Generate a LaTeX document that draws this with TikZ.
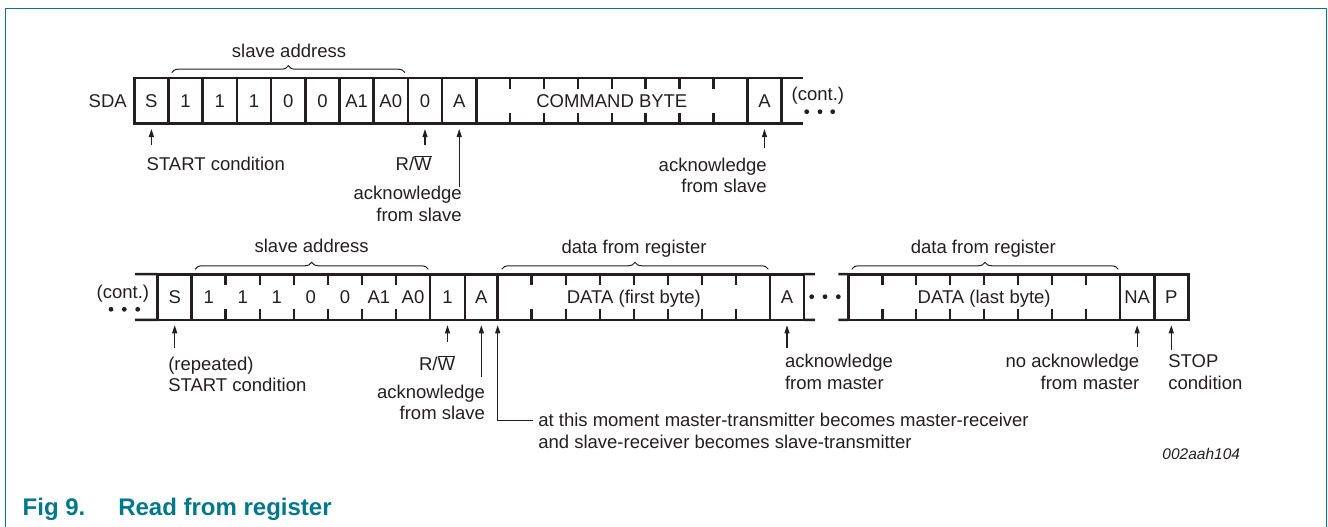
\documentclass[tikz,border=0pt]{standalone}
\usepackage{fontspec}
\setmainfont{Liberation Sans}
\usetikzlibrary{arrows.meta,decorations.pathreplacing,calc}
\definecolor{ink}{HTML}{231F20}
\definecolor{figteal}{RGB}{0,119,139}
\newcommand\mycell[5]{\node[cell,minimum width={(#3)-(#2)}] (#1) at ({((#2)+(#3))/2},#4) {#5};}
\newcommand\myticks[3]{\foreach \k in {1,...,#3} {%
  \draw[tick] ($(#1.north west)!\k/#2!(#1.north east)$) -- ++(0,10.5);
  \draw[tick] ($(#1.south west)!\k/#2!(#1.south east)$) -- ++(0,-10.5);}}
\begin{document}
\begin{tikzpicture}[x=1pt,y=-1pt,
  font=\fontsize{18.5}{21.5}\selectfont,
  every node/.style={text=ink, inner sep=0pt, outer sep=0pt},
  cell/.style={draw=ink, line width=2.5pt, minimum height=45.5pt, text height=13.3pt, text depth=0pt},
  bit/.style={text height=13.3pt, text depth=0pt},
  bus/.style={draw=ink, line width=2.5pt},
  tick/.style={draw=ink, line width=2.5pt},
  arr/.style={draw=ink, line width=1.1pt, -{Triangle[length=8pt,width=5pt]}},
  brc/.style={draw=ink, line width=1pt, decorate, decoration={brace, amplitude=7pt}},
  lw/.style={anchor=base west},
  le/.style={anchor=base east},
  lc/.style={anchor=base}]
\useasboundingbox (0,0) rectangle (1328,527);
% frame
\draw[figteal, line width=1.5pt] (5.3,530) -- (5.3,8.3) -- (1326.3,8.3) -- (1326.3,530);

% ---------- top row ----------
\node[le] (sda) at (126.7,107.3) {SDA};
\mycell{tS}{134.3}{168.5}{100.75}{S}
\mycell{tb1}{168.5}{202.7}{100.75}{1}
\mycell{tb2}{202.7}{236.9}{100.75}{1}
\mycell{tb3}{236.9}{271.1}{100.75}{1}
\mycell{tb4}{271.1}{305.3}{100.75}{0}
\mycell{tb5}{305.3}{339.5}{100.75}{0}
\mycell{tA1}{339.5}{373.7}{100.75}{A1}
\mycell{tA0}{373.7}{407.9}{100.75}{A0}
\mycell{tRW}{407.9}{442.1}{100.75}{0}
\mycell{tAck}{442.1}{476.3}{100.75}{A}
\mycell{tCmd}{476.3}{747.3}{100.75}{COMMAND BYTE}
\mycell{tAck2}{747.3}{781.7}{100.75}{A}
\myticks{tCmd}{8}{7}
\coordinate (tEndTop) at (803,78);
\coordinate (tEndBot) at (803,123.5);
\draw[bus] (tAck2.north east) -- (tEndTop);
\draw[bus] (tAck2.south east) -- (tEndBot);
\node[lw] (tcont) at (791.7,100) {(cont.)};
\foreach \x in {806.7,820,832.7} \fill[ink] (\x,111.7) circle (2.4pt);

\draw[brc] (171.7,72.7) -- (405,72.7);
\node[lc] (tsa) at (289,57.3) {slave address};

\node[lw] (tStart) at (146.7,170.7) {START condition};
\draw[arr] ([yshift=-21.5pt]tS.south) -- ([yshift=-5.5pt]tS.south);
\node[le] (tRWl) at (431.7,170.7) {R/$\overline{\mbox{W}}$};
\draw[arr] ([yshift=-21.5pt]tRW.south) -- ([yshift=-5.5pt]tRW.south);
\node[le] (tAckl1) at (461.7,199.5) {acknowledge};
\node[le] (tAckl2) at (461.7,221) {from slave};
\draw[arr] ([yshift=-63pt]tAck.south) -- ([yshift=-5.5pt]tAck.south);
\node[le] (tAck2l1) at (766.7,171) {acknowledge};
\node[le] (tAck2l2) at (766.7,192.7) {from slave};
\draw[arr] ([yshift=-24.5pt]tAck2.south) -- ([yshift=-5.5pt]tAck2.south);

% ---------- bottom row ----------
\node[lw] (bcont) at (96.7,298.3) {(cont.)};
\foreach \x in {111,124.3,137.7} \fill[ink] (\x,309.3) circle (2.4pt);
\mycell{bS}{157.7}{191.7}{297}{S}
\mycell{bAddr}{191.7}{430}{297}{}
\mycell{bRW}{430}{465}{297}{1}
\mycell{bAck}{465}{497.7}{297}{A}
\mycell{bData1}{497.7}{770}{297}{DATA (first byte)}
\mycell{bAckM}{770}{804}{297}{A}
\mycell{bData2}{848.3}{1120}{297}{DATA (last byte)}
\mycell{bNA}{1120}{1154.3}{297}{NA}
\mycell{bP}{1154.3}{1188.3}{297}{P}
\myticks{bAddr}{7}{6}
\myticks{bData1}{8}{7}
\myticks{bData2}{8}{7}
\foreach \t [count=\i from 0] in {1,1,1,0,0,A1,A0}
  \node[bit] (bbit\i) at ($(bAddr.west)!{(\i+0.5)/7}!(bAddr.east)$) {\t};
\coordinate (bStartTop) at (135,274);
\coordinate (bStartBot) at (135,320);
\draw[bus] (bStartTop) -- (bS.north west);
\draw[bus] (bStartBot) -- (bS.south west);
\coordinate (gapATop) at (815,274);
\coordinate (gapABot) at (815,320);
\coordinate (gapBTop) at (838.3,274);
\coordinate (gapBBot) at (838.3,320);
\draw[bus] (bAckM.north east) -- (gapATop);
\draw[bus] (bAckM.south east) -- (gapABot);
\draw[bus] (gapBTop) -- (bData2.north west);
\draw[bus] (gapBBot) -- (bData2.south west);
\foreach \x in {811.7,825,838.3} \fill[ink] (\x,296.7) circle (2.4pt);

\draw[brc] (195,269.3) -- (428.3,269.3);
\node[lc] (bsa) at (311.7,252.7) {slave address};
\draw[brc] (501.7,269.3) -- (768.3,269.3);
\node[lc] (bdr1) at (634,253) {data from register};
\draw[brc] (851.7,269.3) -- (1118.3,269.3);
\node[lc] (bdr2) at (983.3,253) {data from register};

\node[lw] (bRep) at (168.3,370) {(repeated)};
\node[lw] (bStart) at (168.3,391.5) {START condition};
\draw[arr] ([yshift=-28pt]bS.south) -- ([yshift=-5.5pt]bS.south);
\node[le] (bRWl) at (455,370) {R/$\overline{\mbox{W}}$};
\draw[arr] ([yshift=-22pt]bRW.south) -- ([yshift=-5.5pt]bRW.south);
\node[le] (bAckl1) at (485,398.3) {acknowledge};
\node[le] (bAckl2) at (485,419.5) {from slave};
\draw[arr] ([yshift=-57pt]bAck.south) -- ([yshift=-5.5pt]bAck.south);
\node[lw] (atm1) at (538.3,426.7) {at this moment master-transmitter becomes master-receiver};
\node[lw] (atm2) at (538.3,448.3) {and slave-receiver becomes slave-transmitter};
\draw[arr] ([xshift=-5pt]atm1.west) -| ([yshift=-5.5pt]bData1.south west);
\node[lw] (bAckMl1) at (785,367.3) {acknowledge};
\node[lw] (bAckMl2) at (785,389) {from master};
\draw[arr] ([yshift=-28pt]bAckM.south) -- ([yshift=-5.5pt]bAckM.south);
\node[le] (bNAl1) at (1139.3,367.3) {no acknowledge};
\node[le] (bNAl2) at (1139.3,389) {from master};
\draw[arr] ([yshift=-27pt]bNA.south) -- ([yshift=-5.5pt]bNA.south);
\node[lw] (bPl1) at (1168.3,367.3) {STOP};
\node[lw] (bPl2) at (1168.3,389) {condition};
\draw[arr] ([yshift=-30pt]bP.south) -- ([yshift=-5.5pt]bP.south);

\node[le, font=\fontsize{15.5}{18}\selectfont\itshape] (code) at (1240,459.3) {002aah104};

% caption
\node[lw, text=figteal, font=\fontsize{24}{28}\selectfont\bfseries] (fig) at (22.7,515) {Fig 9.};
\node[lw, text=figteal, font=\fontsize{24}{28}\selectfont\bfseries] (title) at (118.3,515) {Read from register};
\end{tikzpicture}
\end{document}
